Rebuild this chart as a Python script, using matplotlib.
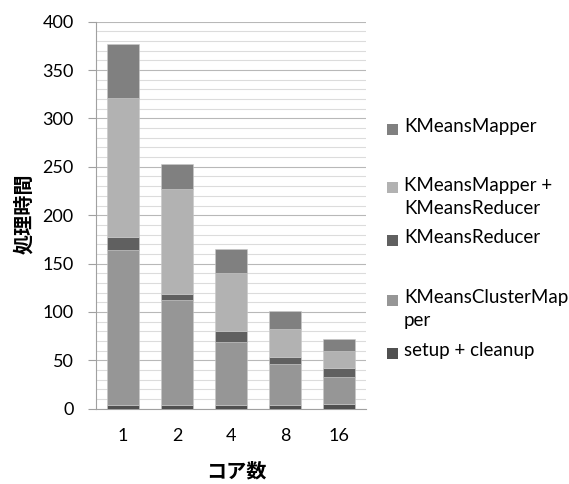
import matplotlib
matplotlib.use("Agg")
import matplotlib.pyplot as plt
from matplotlib.patches import Rectangle
import numpy as np

# Processing time per stage, by number of cores
cores = ["1", "2", "4", "8", "16"]
setup_cleanup = [4, 4, 4, 4, 5]
cluster_mapper = [160, 108, 64.5, 42, 28]
reducer = [13.5, 7, 12, 7.5, 9]
mapper_reducer = [144, 108, 60, 29, 17.6]
mapper = [55.5, 26, 24.5, 18.6, 12]

series_names = ["setup + cleanup", "KMeansClusterMap\nper", "KMeansReducer",
                "KMeansMapper +\nKMeansReducer", "KMeansMapper"]
series_values = [setup_cleanup, cluster_mapper, reducer, mapper_reducer, mapper]
series_colors = ["#505050", "#969696", "#606060", "#b2b2b2", "#808080"]

y_ticks = [0, 50, 100, 150, 200, 250, 300, 350, 400]

plt.rcParams["font.family"] = ["Lato", "Noto Sans CJK JP", "DejaVu Sans"]

fig = plt.figure(figsize=(5.69, 4.84), dpi=100)
ax = fig.add_axes([0.1687, 0.1556, 0.4745, 0.7996])

x = np.arange(len(cores))
bottom = np.zeros(len(cores))
for vals, color in zip(series_values, series_colors):
    ax.bar(x, vals, bottom=bottom, width=0.575, color=color,
           edgecolor="#c8c8c8", linewidth=0.4, zorder=3)
    bottom += np.array(vals)

ax.set_xlim(-0.5, len(cores) - 0.5)
ax.set_ylim(0, 400)
ax.set_yticks(y_ticks)
ax.set_yticks(np.arange(0, 401, 10), minor=True)
ax.set_xticks(x)
ax.set_xticklabels(cores)

ax.grid(axis="y", which="minor", color="#dcdcdc", linewidth=0.8, zorder=0)
ax.grid(axis="y", which="major", color="#b8b8b8", linewidth=0.8, zorder=0)
ax.tick_params(axis="y", which="minor", length=0)
ax.tick_params(axis="y", which="major", length=6, color="#a0a0a0",
               labelsize=13, pad=10)
ax.tick_params(axis="x", length=0, labelsize=13, pad=14)

for side in ("top", "right"):
    ax.spines[side].set_visible(False)
for side in ("left", "bottom"):
    ax.spines[side].set_color("#a0a0a0")
    ax.spines[side].set_linewidth(0.8)

fig.text(24 / 569, 1 - 214 / 484, "処理時間", rotation=90, ha="center",
         va="center", fontsize=14.5, fontweight="bold",
         family=["Noto Sans CJK JP", "DejaVu Sans"])
fig.text(236 / 569, 1 - 471 / 484, "コア数", ha="center", va="center",
         fontsize=14.5, fontweight="bold",
         family=["Noto Sans CJK JP", "DejaVu Sans"])

# Legend, listed top-down in reverse stacking order
legend_rows = [129, 188, 240, 300, 353]
for name, color, yrow in zip(series_names[::-1], series_colors[::-1], legend_rows):
    fig.patches.append(Rectangle((387 / 569, 1 - (yrow + 5.5) / 484),
                                 11 / 569, 11 / 484, transform=fig.transFigure,
                                 facecolor=color, edgecolor="none"))
    fig.text(404 / 569, 1 - (yrow - 11) / 484, name, ha="left", va="top",
             fontsize=13.5, linespacing=1.4)

fig.savefig("out.png", dpi=100)
